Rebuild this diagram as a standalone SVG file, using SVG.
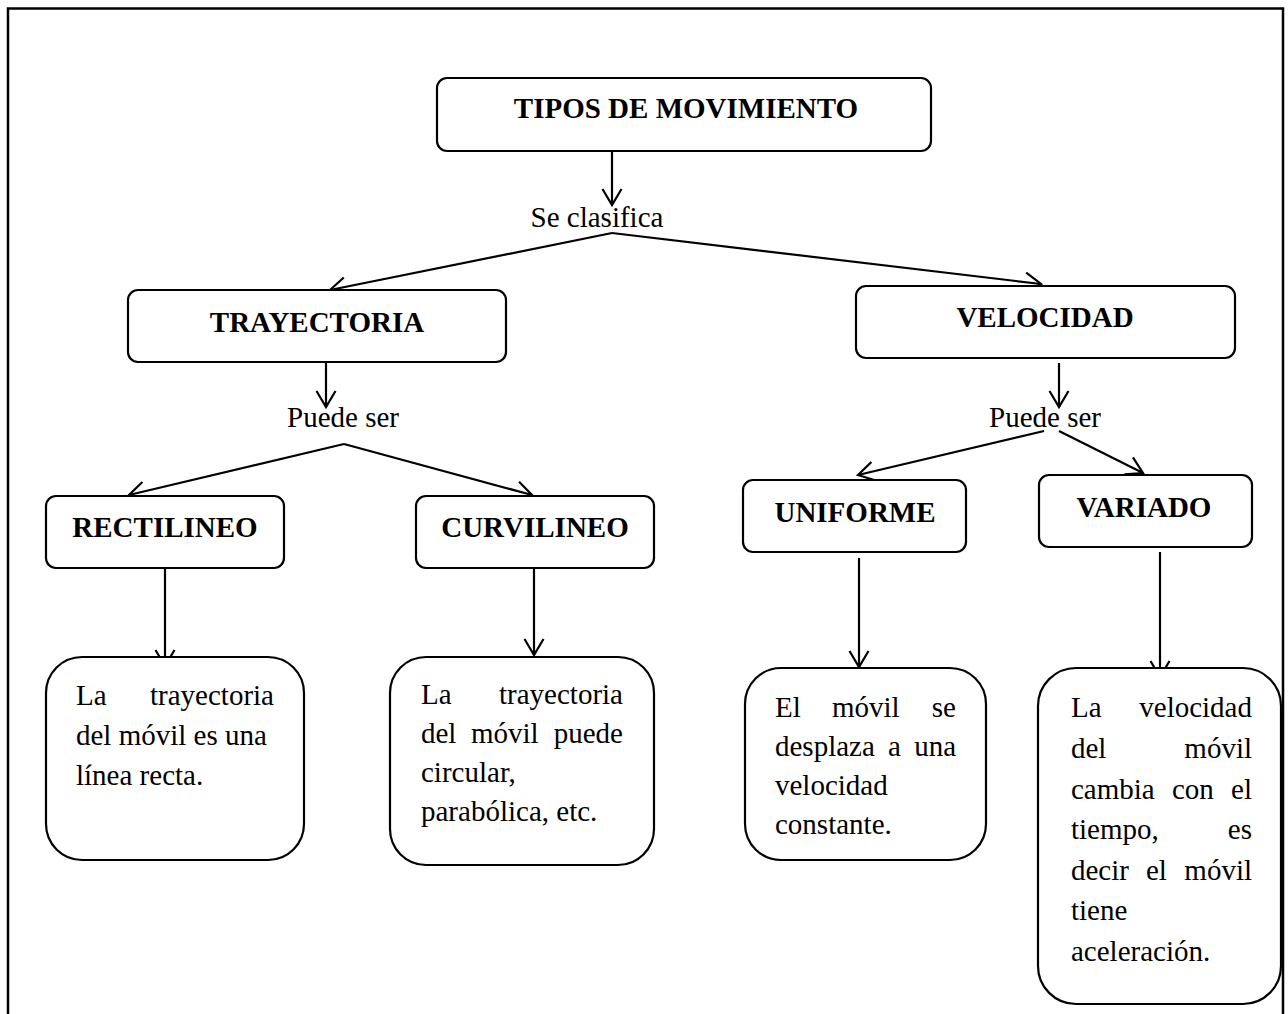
<svg xmlns="http://www.w3.org/2000/svg" width="1288" height="1014" viewBox="0 0 1288 1014">
  <style>
    .box { fill: #fff; stroke: #000; stroke-width: 2.2; }
    .t { font-family: "Liberation Serif", "Times New Roman", serif; font-size: 29px; fill: #000; }
    .b { font-weight: bold; text-anchor: middle; }
    .c { text-anchor: middle; }
    .e { text-anchor: end; }
    .conn line { stroke: #000; stroke-width: 2.2; marker-end: url(#arr); }
  </style>
  <defs>
    <marker id="arr" markerUnits="userSpaceOnUse" markerWidth="24" markerHeight="24" viewBox="-20 -12 24 24" refX="0" refY="0" orient="auto">
      <path d="M-16,-9.5 L0,0 L-16,9.5" fill="none" stroke="#000" stroke-width="2.2"/>
    </marker>
  </defs>
  <rect width="1288" height="1014" fill="#fff"/>
  <path d="M8,1014 V8.5 H1283 V1014" fill="none" stroke="#000" stroke-width="2.5"/>

  <g class="conn" id="connectors">
    <line x1="612" y1="151" x2="612" y2="205"/>
    <line x1="612" y1="233" x2="330" y2="290"/>
    <line x1="612" y1="233" x2="1041" y2="284"/>
    <line x1="326" y1="362" x2="326" y2="407"/>
    <line x1="344" y1="444" x2="129" y2="495"/>
    <line x1="344" y1="444" x2="532" y2="495"/>
    <line x1="1059" y1="363" x2="1059" y2="407"/>
    <line x1="1044" y1="431" x2="858" y2="475"/>
    <line x1="1059" y1="431" x2="1143" y2="473"/>
    <line x1="165" y1="568" x2="165" y2="666"/>
    <line x1="534" y1="568" x2="534" y2="655"/>
    <line x1="859" y1="558" x2="859" y2="667"/>
    <line x1="1160" y1="552" x2="1160" y2="677"/>
  </g>

  <g id="labels">
    <text class="t c" x="597" y="227">Se clasifica</text>
    <text class="t c" x="343" y="427">Puede ser</text>
    <text class="t c" x="1045" y="427">Puede ser</text>
  </g>

  <g id="tipos">
    <rect class="box" x="437" y="78" width="494" height="73" rx="10"/>
    <text class="t b" x="686" y="118">TIPOS DE MOVIMIENTO</text>
  </g>
  <g id="trayectoria">
    <rect class="box" x="128" y="290" width="378" height="72" rx="10"/>
    <text class="t b" x="317" y="332">TRAYECTORIA</text>
  </g>
  <g id="velocidad">
    <rect class="box" x="856" y="286" width="379" height="72" rx="10"/>
    <text class="t b" x="1045" y="327">VELOCIDAD</text>
  </g>
  <g id="rectilineo">
    <rect class="box" x="46" y="496" width="238" height="72" rx="10"/>
    <text class="t b" x="165" y="537">RECTILINEO</text>
  </g>
  <g id="curvilineo">
    <rect class="box" x="416" y="496" width="238" height="72" rx="10"/>
    <text class="t b" x="535" y="537">CURVILINEO</text>
  </g>
  <g id="uniforme">
    <rect class="box" x="743" y="480" width="223" height="72" rx="10"/>
    <text class="t b" x="855" y="522">UNIFORME</text>
  </g>
  <g id="variado">
    <rect class="box" x="1039" y="475" width="213" height="72" rx="10"/>
    <text class="t b" x="1144" y="517">VARIADO</text>
  </g>

  <g id="rectilineo-desc">
    <rect class="box" x="46" y="657" width="258" height="203" rx="36"/>
    <text class="t" x="76" y="705">La</text>
    <text class="t e" x="274" y="705">trayectoria</text>
    <text class="t" x="76" y="745">del móvil es una</text>
    <text class="t" x="76" y="785">línea recta.</text>
  </g>
  <g id="curvilineo-desc">
    <rect class="box" x="390" y="657" width="264" height="208" rx="36"/>
    <text class="t" x="421" y="704">La</text>
    <text class="t e" x="623" y="704">trayectoria</text>
    <text class="t" x="421" y="743">del</text>
    <text class="t" x="471" y="743">móvil</text>
    <text class="t e" x="623" y="743">puede</text>
    <text class="t" x="421" y="782">circular,</text>
    <text class="t" x="421" y="821">parabólica, etc.</text>
  </g>
  <g id="uniforme-desc">
    <rect class="box" x="745" y="668" width="241" height="192" rx="36"/>
    <text class="t" x="775" y="717">El</text>
    <text class="t" x="832" y="717">móvil</text>
    <text class="t e" x="956" y="717">se</text>
    <text class="t" x="775" y="756">desplaza</text>
    <text class="t" x="888" y="756">a</text>
    <text class="t e" x="956" y="756">una</text>
    <text class="t" x="775" y="795">velocidad</text>
    <text class="t" x="775" y="834">constante.</text>
  </g>
  <g id="variado-desc">
    <rect class="box" x="1038" y="668" width="243" height="336" rx="38"/>
    <text class="t" x="1071" y="717">La</text>
    <text class="t e" x="1252" y="717">velocidad</text>
    <text class="t" x="1071" y="758">del</text>
    <text class="t e" x="1252" y="758">móvil</text>
    <text class="t" x="1071" y="799">cambia</text>
    <text class="t" x="1172" y="799">con</text>
    <text class="t e" x="1252" y="799">el</text>
    <text class="t" x="1071" y="839">tiempo,</text>
    <text class="t e" x="1252" y="839">es</text>
    <text class="t" x="1071" y="880">decir</text>
    <text class="t" x="1146" y="880">el</text>
    <text class="t e" x="1252" y="880">móvil</text>
    <text class="t" x="1071" y="920">tiene</text>
    <text class="t" x="1071" y="961">aceleración.</text>
  </g>
</svg>
